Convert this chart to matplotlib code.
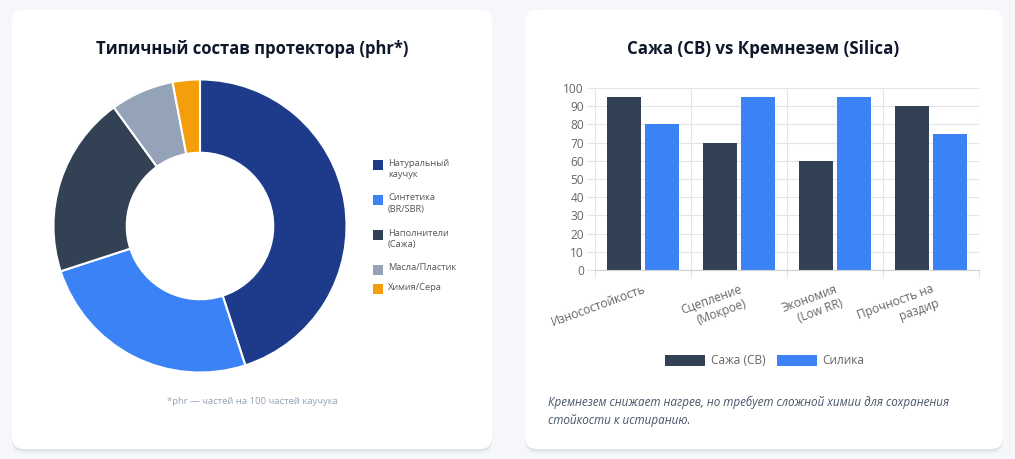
import matplotlib
matplotlib.use('Agg')
import matplotlib.pyplot as plt
from matplotlib.patches import FancyBboxPatch, Rectangle
import numpy as np

W, H = 1015, 459
plt.rcParams['font.family'] = ['Open Sans', 'DejaVu Sans']

# ---- data ----
comp_labels = ['Натуральный\nкаучук', 'Синтетика\n(BR/SBR)', 'Наполнители\n(Сажа)', 'Масла/Пластик', 'Химия/Сера']
comp_values = [45, 25, 20, 7, 3]
comp_colors = ['#1e3a8a', '#3b82f6', '#334155', '#94a3b8', '#f59e0b']

bar_categories = ['Износостойкость', 'Сцепление\n(Мокрое)', 'Экономия\n(Low RR)', 'Прочность на\nраздир']
carbon_black = [95, 70, 60, 90]
silica = [80, 95, 95, 75]
series_names = ['Сажа (CB)', 'Силика']
series_colors = ['#334155', '#3b82f6']
y_ticks = list(range(0, 101, 10))

title_left = 'Типичный состав протектора (phr*)'
title_right = 'Сажа (CB) vs Кремнезем (Silica)'
footnote_left = '*phr — частей на 100 частей каучука'
footnote_right = 'Кремнезем снижает нагрев, но требует сложной химии для сохранения\nстойкости к истиранию.'

# ---- figure ----
fig = plt.figure(figsize=(W / 100, H / 100), dpi=100, facecolor='#f5f7fa')
bg = fig.add_axes([0, 0, 1, 1], zorder=0)
bg.set_xlim(0, W)
bg.set_ylim(H, 0)
bg.axis('off')


def px(x0, y0, x1, y1):
    return [x0 / W, 1 - y1 / H, (x1 - x0) / W, (y1 - y0) / H]


def card(x0, y0, x1, y1):
    for dy, a in [(5, 0.025), (3, 0.03), (1.5, 0.04)]:
        bg.add_patch(FancyBboxPatch((x0, y0 + dy), x1 - x0, y1 - y0,
                                    boxstyle='round,pad=0,rounding_size=12',
                                    fc='#0f172a', ec='none', alpha=a))
    bg.add_patch(FancyBboxPatch((x0, y0), x1 - x0, y1 - y0,
                                boxstyle='round,pad=0,rounding_size=12',
                                fc='white', ec='none'))


card(12, 10, 492, 449)
card(525, 10, 1003, 449)

# titles
bg.text(252, 49, title_left, ha='center', va='center', fontsize=12,
        fontweight='bold', color='#0f172a')
bg.text(763, 49, title_right, ha='center', va='center', fontsize=12.2,
        fontweight='bold', color='#0f172a')

# ---- donut ----
ax1 = fig.add_axes(px(52, 78, 348, 374), zorder=1)
ax1.pie(comp_values, colors=comp_colors, startangle=90, counterclock=False,
        radius=1, wedgeprops=dict(width=0.5, edgecolor='white', linewidth=1.5))
ax1.set_xlim(-1.01, 1.01)
ax1.set_ylim(-1.01, 1.01)

# donut legend
y = 165
for lab, col in zip(comp_labels, comp_colors):
    n = lab.count('\n') + 1
    bg.add_patch(Rectangle((373, y - 5), 10, 10, fc=col, ec='none'))
    bg.text(388, y - 6.5, lab, ha='left', va='top', fontsize=6.7,
            color='#555555', linespacing=1.35)
    y += 35 if n > 1 else 19

bg.text(252, 402, footnote_left, ha='center', va='center', fontsize=6.8,
        color='#94a3b8')

# ---- bar chart ----
ax2 = fig.add_axes(px(595, 88, 979, 270), zorder=1)
x = np.arange(len(bar_categories))
ax2.bar(x - 0.2, carbon_black, 0.36, color=series_colors[0], label=series_names[0], zorder=2)
ax2.bar(x + 0.2, silica, 0.36, color=series_colors[1], label=series_names[1], zorder=2)
ax2.set_xlim(-0.5, len(bar_categories) - 0.5)
ax2.set_ylim(0, 100)
ax2.set_yticks(y_ticks)
ax2.set_xticks(x)
ax2.set_xticks(np.arange(-0.5, len(bar_categories), 1), minor=True)
ax2.set_xticklabels(bar_categories, rotation=20, ha='right', va='top',
                    rotation_mode='anchor', multialignment='right')
gc = '#e4e4e4'
ax2.grid(axis='y', which='major', color=gc, lw=0.8, zorder=0)
ax2.grid(axis='x', which='minor', color=gc, lw=0.8, zorder=0)
ax2.tick_params(axis='x', which='major', length=0, pad=9, labelsize=8.6, labelcolor='#666666')
ax2.tick_params(axis='x', which='minor', length=6, color=gc, width=0.8)
ax2.tick_params(axis='y', which='major', length=6, color=gc, width=0.8, pad=2,
                labelsize=8.6, labelcolor='#666666')
for s in ['top', 'right', 'left']:
    ax2.spines[s].set_visible(False)
ax2.spines['bottom'].set_color('#d0d0d0')
ax2.spines['bottom'].set_linewidth(0.8)
ax2.set_facecolor('none')

ax2.legend(loc='center', bbox_to_anchor=(765 / W, 1 - 361 / H), bbox_transform=fig.transFigure,
           ncol=2, frameon=False, handlelength=3.3, handleheight=1.0, fontsize=8.6,
           columnspacing=1.0, handletextpad=0.5, labelcolor='#666666')

bg.text(548, 396, footnote_right, ha='left', va='top', fontsize=8.4, style='italic',
        color='#475569', linespacing=1.45)

fig.savefig('out.png', dpi=100, facecolor=fig.get_facecolor())
